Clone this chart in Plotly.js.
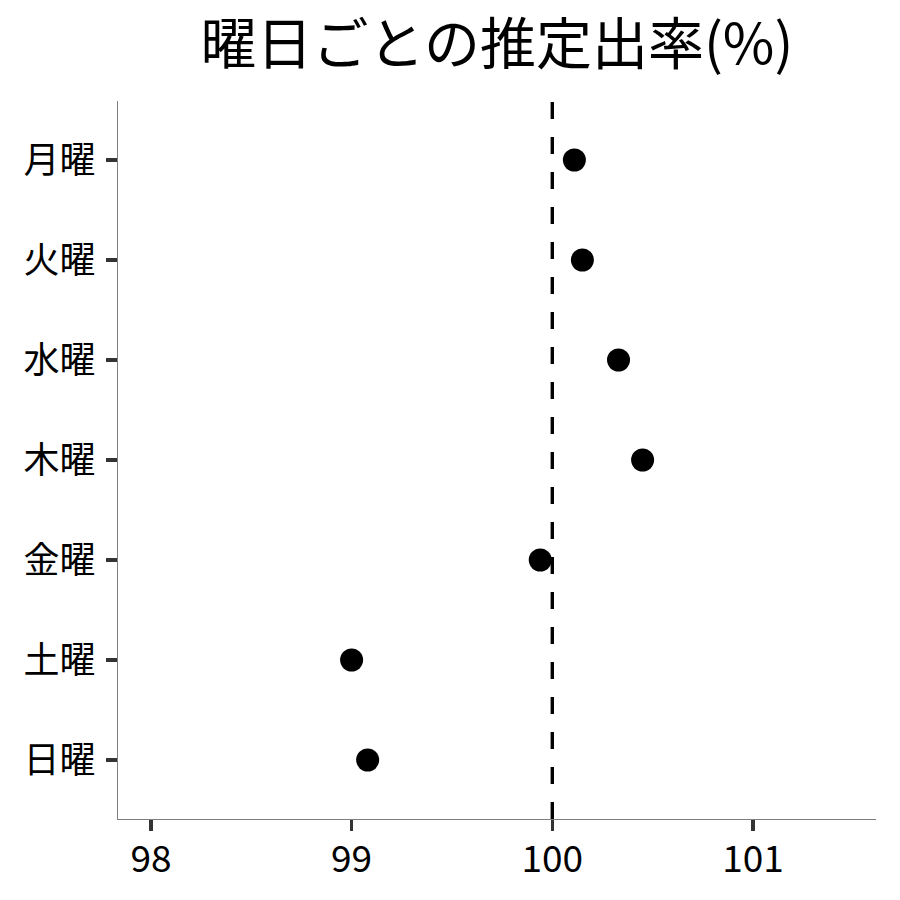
<!DOCTYPE html>
<html>
<head>
<meta charset="utf-8">
<script src="https://cdn.plot.ly/plotly-3.0.1.min.js"></script>
<style>html,body{margin:0;padding:0;background:#fff;}#chart{width:900px;height:900px;}</style>
</head>
<body>
<div id="chart"></div>
<script>
var days = ["月曜", "火曜", "水曜", "木曜", "金曜", "土曜", "日曜"];
var rates = [100.11, 100.15, 100.33, 100.45, 99.94, 99.0, 99.08];
var refValue = 100;
var xTicks = [98, 99, 100, 101];
var titleText = "曜日ごとの推定出率(%)";

var FONT = "Noto Sans CJK JP, Noto Sans, sans-serif";

var trace = {
  type: "scatter",
  mode: "markers",
  x: rates,
  y: days,
  marker: {color: "#000000", size: 23},
  hoverinfo: "x+y",
  showlegend: false
};

var layout = {
  width: 900,
  height: 900,
  paper_bgcolor: "#ffffff",
  plot_bgcolor: "#ffffff",
  margin: {l: 118, r: 24, t: 101, b: 81},
  font: {family: FONT, color: "#000000"},
  title: {
    text: titleText,
    font: {family: FONT, size: 56, color: "#000000"},
    x: 0.5521, xanchor: "center",
    y: 0.951, yanchor: "middle"
  },
  xaxis: {
    range: [97.836, 101.613],
    tickvals: xTicks,
    ticktext: xTicks.map(String),
    showgrid: false,
    zeroline: false,
    showline: true,
    linecolor: "#808080",
    linewidth: 1.3,
    ticks: "outside",
    ticklen: 11,
    tickwidth: 3.5,
    tickcolor: "#333333",
    tickfont: {family: FONT, size: 37, color: "#000000"},
    ticklabelstandoff: -4
  },
  yaxis: {
    type: "category",
    categoryorder: "array",
    categoryarray: days,
    range: [6.59, -0.59],
    showgrid: false,
    zeroline: false,
    showline: true,
    linecolor: "#808080",
    linewidth: 1.3,
    ticks: "outside",
    ticklen: 11,
    tickwidth: 3.5,
    tickcolor: "#333333",
    tickfont: {family: FONT, size: 36, color: "#000000"},
    ticklabelstandoff: 3
  },
  shapes: [{
    type: "line",
    xref: "x", yref: "paper",
    x0: refValue, x1: refValue, y0: 0, y1: 1,
    line: {color: "#000000", width: 3.4, dash: "17px,18px"},
    layer: "below"
  }]
};

Plotly.newPlot("chart", [trace], layout, {displayModeBar: false, staticPlot: true});
</script>
</body>
</html>
